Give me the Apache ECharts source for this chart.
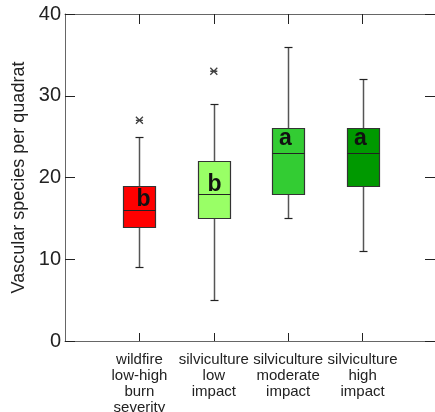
<!DOCTYPE html>
<html>
<head>
<meta charset="utf-8">
<script src="https://cdn.jsdelivr.net/npm/echarts@6/dist/echarts.min.js"></script>
<style>html,body{margin:0;padding:0;background:#fff}#c{width:435px;height:412px}</style>
</head>
<body>
<div id="c"></div>
<script>
// ---- data ----
const categories = ['', 'wildfire\nlow-high\nburn\nseverity', 'silviculture\nlow\nimpact', 'silviculture\nmoderate\nimpact', 'silviculture\nhigh\nimpact', ''];
const whiskerLow  = [9, 5, 15, 11];
const q1          = [14, 15, 18, 19];
const median      = [16, 18, 23, 23];
const q3          = [19, 22, 26, 26];
const whiskerHigh = [25, 29, 36, 32];
const outlierCat  = [1, 2];
const outlierVal  = [27, 33];
const letters     = ['b', 'b', 'a', 'a'];
const letterVal   = [17.25, 19.08, 24.7, 24.7];
const yTicks      = [0, 10, 20, 30, 40];

const boxColors = ['#ff0000', '#99ff66', '#33cc33', '#009900'];
const letterDx = [4, 0, -3, -3];

const boxData = whiskerLow.map((_, i) => [i + 1, whiskerLow[i], q1[i], median[i], q3[i], whiskerHigh[i], letterVal[i]]);
const outlierData = outlierCat.map((c, i) => [c, outlierVal[i]]);

const chart = echarts.init(document.getElementById('c'), null, {renderer: 'canvas'});
const axisLineStyle = {color: '#666', width: 1};
const tickShow = (idx) => idx >= 1 && idx <= 4;

chart.setOption({
  animation: false,
  backgroundColor: '#fff',
  grid: {left: 65, top: 14, width: 372, height: 327, containLabel: false, outerBoundsMode: 'none'},
  xAxis: [{
    type: 'category', data: categories, boundaryGap: false, position: 'bottom',
    axisLine: {onZero: false, lineStyle: axisLineStyle},
    axisTick: {inside: true, length: 8, interval: tickShow, lineStyle: {color: '#222'}},
    axisLabel: {interval: tickShow, color: '#222', fontFamily: 'Liberation Sans', fontSize: 15, lineHeight: 16, margin: 11},
    splitLine: {show: false}
  }, {
    type: 'category', data: categories, boundaryGap: false, position: 'top',
    axisLine: {onZero: false, lineStyle: axisLineStyle},
    axisTick: {inside: true, length: 10, interval: tickShow, lineStyle: {color: '#222'}},
    axisLabel: {show: false}, splitLine: {show: false}
  }],
  yAxis: [{
    type: 'value', min: 0, max: 40, interval: 10, position: 'left',
    name: 'Vascular species per quadrat', nameLocation: 'middle', nameGap: 33,
    nameTextStyle: {color: '#222', fontFamily: 'Liberation Sans', fontSize: 18},
    axisLine: {show: true, onZero: false, lineStyle: axisLineStyle},
    axisTick: {show: true, inside: true, length: 10, lineStyle: {color: '#222'}},
    axisLabel: {color: '#222', fontFamily: 'Liberation Sans', fontSize: 20, margin: 4,
      formatter: v => yTicks.includes(v) ? String(v) : ''},
    splitLine: {show: false}
  }, {
    type: 'value', min: 0, max: 40, interval: 10, position: 'right',
    axisLine: {show: true, onZero: false, lineStyle: axisLineStyle},
    axisTick: {show: true, inside: true, length: 12, lineStyle: {color: '#222'}},
    axisLabel: {show: false}, splitLine: {show: false}
  }],
  series: [{
    type: 'custom',
    xAxisIndex: 0, yAxisIndex: 0,
    data: boxData,
    renderItem: function (params, api) {
      const i = params.dataIndex;
      const x = api.value(0);
      const pLow = api.coord([x, api.value(1)]);
      const pQ1 = api.coord([x, api.value(2)]);
      const pMed = api.coord([x, api.value(3)]);
      const pQ3 = api.coord([x, api.value(4)]);
      const pHigh = api.coord([x, api.value(5)]);
      const pLet = api.coord([x, api.value(6)]);
      const cx = Math.round(pMed[0]) + 0.5;
      const hw = 16, cw = 4;
      const snap = v => Math.round(v) + 0.5;
      return {
        type: 'group',
        children: [
          {type: 'line', shape: {x1: cx, y1: snap(pHigh[1]), x2: cx, y2: snap(pQ3[1])}, style: {stroke: '#555', lineWidth: 1.5}},
          {type: 'line', shape: {x1: cx, y1: snap(pQ1[1]), x2: cx, y2: snap(pLow[1])}, style: {stroke: '#555', lineWidth: 1.5}},
          {type: 'line', shape: {x1: cx - cw, y1: snap(pHigh[1]), x2: cx + cw, y2: snap(pHigh[1])}, style: {stroke: '#222', lineWidth: 1.2}},
          {type: 'line', shape: {x1: cx - cw, y1: snap(pLow[1]), x2: cx + cw, y2: snap(pLow[1])}, style: {stroke: '#222', lineWidth: 1.2}},
          {type: 'rect', shape: {x: cx - hw, y: snap(pQ3[1]), width: hw * 2, height: Math.round(pQ1[1]) - Math.round(pQ3[1])},
            style: {fill: boxColors[i], stroke: '#333', lineWidth: 1.2}},
          {type: 'line', shape: {x1: cx - hw, y1: snap(pMed[1]), x2: cx + hw, y2: snap(pMed[1])}, style: {stroke: '#222', lineWidth: 1}},
          {type: 'text', x: cx + letterDx[i], y: pLet[1],
            style: {text: letters[i], fill: '#111', font: 'bold 23px "Liberation Sans"', align: 'center', verticalAlign: 'middle'}}
        ]
      };
    }
  }, {
    type: 'scatter',
    xAxisIndex: 0, yAxisIndex: 0,
    data: outlierData,
    symbol: 'path://M0,0L10,10M10,0L0,10M0,5L10,5',
    symbolSize: 7,
    itemStyle: {color: 'rgba(0,0,0,0)', borderColor: '#111', borderWidth: 1.3}
  }]
});
</script>
</body>
</html>
